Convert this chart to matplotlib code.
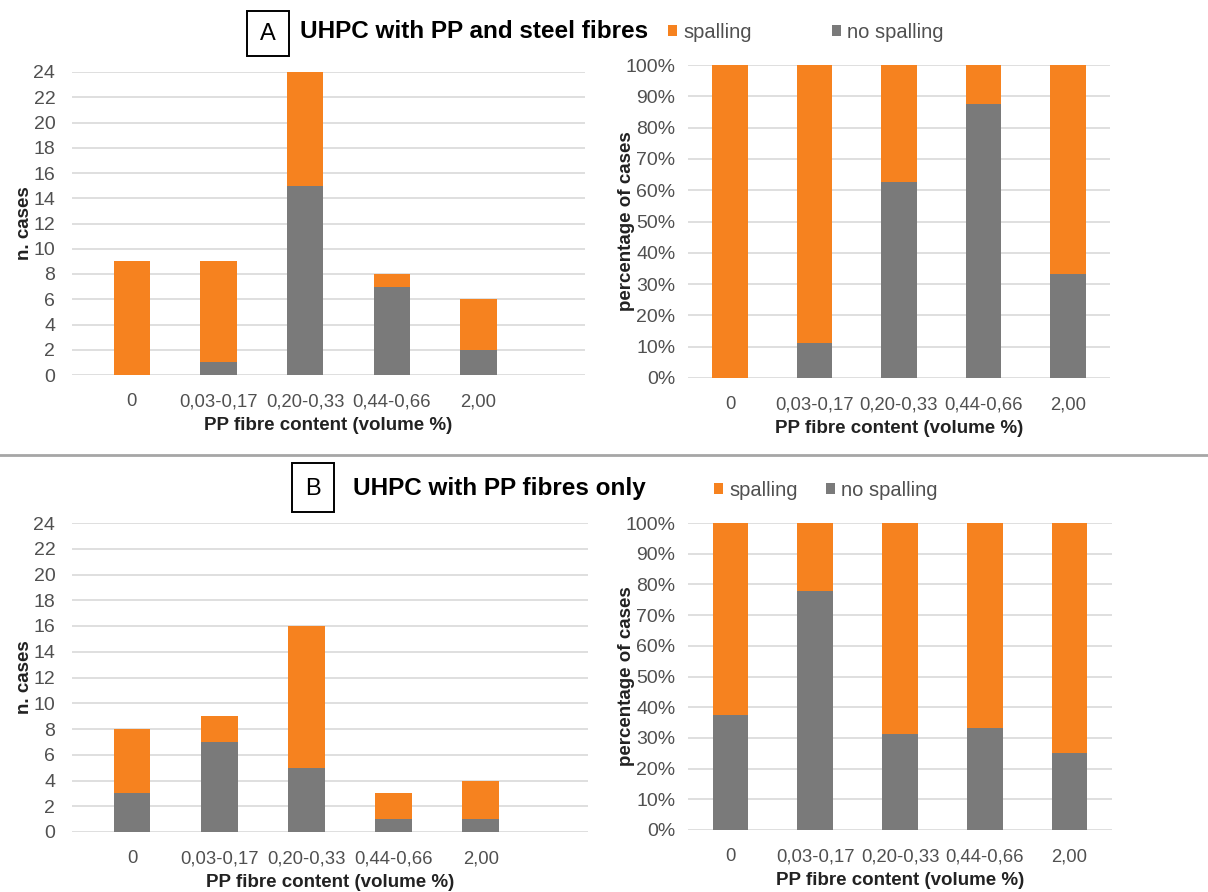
import matplotlib.pyplot as plt
from matplotlib.patches import Rectangle
from matplotlib.lines import Line2D
import numpy as np

plt.rcParams['font.family'] = ['Liberation Sans', 'DejaVu Sans']

categories = ['0', '0,03-0,17', '0,20-0,33', '0,44-0,66', '2,00']

# A: UHPC with PP and steel fibres (number of cases)
a_no_spalling = [0, 1, 15, 7, 2]
a_spalling = [9, 8, 9, 1, 4]

# B: UHPC with PP fibres only (number of cases)
b_no_spalling = [3, 7, 5, 1, 1]
b_spalling = [5, 2, 11, 2, 3]

ORANGE = '#F6821F'
GREY = '#7A7A7A'
GRID = '#D9D9D9'
TXT = '#505050'
BAR_W = 0.42

W, H = 1208, 892
fig = plt.figure(figsize=(W / 100, H / 100), dpi=100)


def px_axes(x0, x1, y0, y1):
    return fig.add_axes([x0 / W, 1 - y1 / H, (x1 - x0) / W, (y1 - y0) / H])


def style(ax, ylab, ylab_x, x0, x1, xlim):
    for s in ax.spines.values():
        s.set_visible(False)
    ax.yaxis.grid(True, color=GRID, lw=1.2)
    ax.set_axisbelow(True)
    ax.tick_params(length=0, labelsize=14, labelcolor=TXT)
    ax.tick_params(axis='x', pad=13, labelsize=13.3)
    ax.set_xlim(*xlim)
    ax.set_xticks(range(len(categories)))
    ax.set_xticklabels(categories)
    ax.set_xlabel('PP fibre content (volume %)', fontsize=13.5,
                  fontweight='bold', labelpad=5, color='#222222')
    ax.set_ylabel(ylab, fontsize=13.5, fontweight='bold', color='#222222')
    ax.yaxis.set_label_coords((ylab_x - x0) / (x1 - x0), 0.5)


def counts_panel(box, no_sp, sp):
    ax = px_axes(*box)
    x = np.arange(len(categories))
    ax.bar(x, no_sp, BAR_W, color=GREY)
    ax.bar(x, sp, BAR_W, bottom=no_sp, color=ORANGE)
    ax.set_ylim(0, 24)
    ax.set_yticks(range(0, 25, 2))
    style(ax, 'n. cases', 33, box[0], box[1], (-0.69, 5.23))
    ax.tick_params(axis='y', pad=12)
    return ax


def percent_panel(box, no_sp, sp):
    ax = px_axes(*box)
    x = np.arange(len(categories))
    no_sp = np.array(no_sp, float)
    total = no_sp + np.array(sp, float)
    pct_no = no_sp / total * 100
    pct_sp = 100 - pct_no
    h_no = ax.bar(x, pct_no, BAR_W, color=GREY)
    h_sp = ax.bar(x, pct_sp, BAR_W, bottom=pct_no, color=ORANGE)
    ax.set_ylim(0, 100)
    ax.set_yticks(range(0, 101, 10))
    ax.set_yticklabels([f'{v}%' for v in range(0, 101, 10)])
    style(ax, 'percentage of cases', 635, box[0], box[1], (-0.5, 4.5))
    ax.tick_params(axis='y', pad=9)
    return ax, h_sp, h_no


def header(letter, bx, by, bw, bh, title, tx, ty, handles, lx, ly, colsp):
    fig.add_artist(Rectangle((bx / W, 1 - (by + bh) / H), bw / W, bh / H,
                             transform=fig.transFigure, fill=False,
                             ec='black', lw=1.4))
    fig.text((bx + bw / 2) / W, 1 - (by + bh / 2 + 1) / H, letter,
             fontsize=17, ha='center', va='center')
    fig.text(tx / W, 1 - ty / H, title, fontsize=17.5, fontweight='bold',
             ha='left', va='center')
    fig.legend(handles=handles, labels=['spalling', 'no spalling'],
               loc='center left', bbox_to_anchor=(lx / W, 1 - ly / H),
               ncol=2, frameon=False, fontsize=14.5, labelcolor=TXT,
               handlelength=0.45, handleheight=0.45, handletextpad=0.3,
               columnspacing=colsp, borderaxespad=0, borderpad=0)


# panel A
counts_panel((72, 585, 72, 375), a_no_spalling, a_spalling)
_, a_sp, a_no = percent_panel((688, 1110, 65, 378), a_no_spalling, a_spalling)
header('A', 247, 11, 42, 45, 'UHPC with PP and steel fibres', 300, 32,
       [a_sp, a_no], 668, 32, 4.0)

# separator between the two groups
fig.add_artist(Line2D([0, 1], [1 - 455 / H] * 2, transform=fig.transFigure,
                      color='#A6A6A6', lw=2))

# panel B
counts_panel((72, 588, 523, 832), b_no_spalling, b_spalling)
_, b_sp, b_no = percent_panel((688, 1112, 523, 830), b_no_spalling, b_spalling)
header('B', 292, 463, 42, 49, 'UHPC with PP fibres only', 353, 488,
       [b_sp, b_no], 714, 490, 1.4)

fig.savefig('out.png', dpi=100, facecolor='white')
